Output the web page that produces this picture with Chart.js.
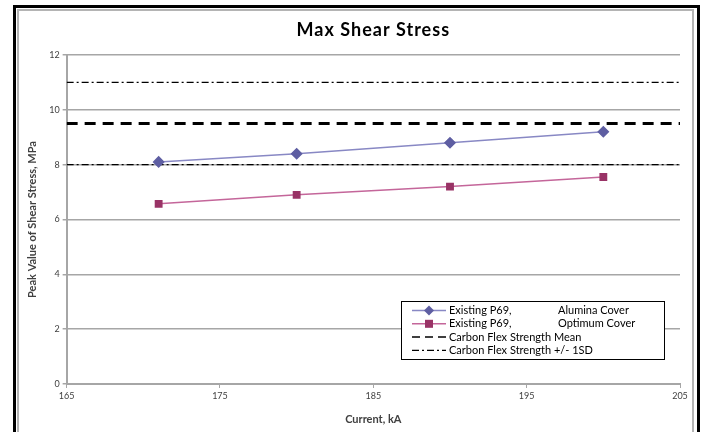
<!DOCTYPE html>
<html>
<head>
<meta charset="utf-8">
<script src="https://cdn.jsdelivr.net/npm/chart.js@4"></script>
<style>
  html, body { margin: 0; padding: 0; background: #fff; }
  #wrap { width: 705px; height: 432px; }
</style>
</head>
<body>
<div id="wrap"><canvas id="chart" width="705" height="432"></canvas></div>
<script>
// Max shear stress vs current, two covers plus carbon flex strength reference lines

const currents = [171, 180, 190, 200];
const aluminaCover = [8.1, 8.4, 8.8, 9.2];
const optimumCover = [6.57, 6.9, 7.2, 7.55];
const xRange = [165, 205];
const flexMean = 9.5;
const flexSD = [8, 11];

const COLORS = {
  blue: "#5e5ea2",
  blueLine: "#8888c4",
  plum: "#993366",
  plumLine: "#c4669a",
  grid: "#a6a6a6",
  text: "#404040"
};

const FONT = "Lato, 'Open Sans', sans-serif";
const TITLE = "Max Shear Stress";

const points = (xs, ys) => xs.map((x, i) => ({ x: x, y: ys[i] }));
const flat = (v) => xRange.map(x => ({ x: x, y: v }));

// frame round the whole chart, like the spreadsheet chart border
const framePlugin = {
  id: "frame",
  beforeDraw(chart) {
    const ctx = chart.ctx;
    ctx.save();
    ctx.fillStyle = "#fff";
    ctx.fillRect(0, 0, chart.width, chart.height);
    ctx.strokeStyle = "#000";
    ctx.lineWidth = 3;
    ctx.strokeRect(14.5, 6.5, 684, 440);
    ctx.strokeStyle = "#b4b4b4";
    ctx.lineWidth = 2;
    ctx.strokeRect(18, 10, 675, 440);
    ctx.restore();
  }
};

// title centred over the plot area rather than the whole canvas
const plotTitle = {
  id: "plotTitle",
  afterDraw(chart) {
    const ctx = chart.ctx;
    const a = chart.chartArea;
    ctx.save();
    ctx.font = "bold 18px " + FONT;
    ctx.letterSpacing = "1px";
    ctx.fillStyle = "#000";
    ctx.textAlign = "center";
    ctx.textBaseline = "middle";
    ctx.fillText(TITLE, (a.left + a.right) / 2, 30);
    ctx.restore();
  }
};

// legend drawn inside the plot, lower right
const boxLegend = {
  id: "boxLegend",
  afterDraw(chart) {
    const ctx = chart.ctx;
    const items = chart.data.datasets.filter(d => d.label);
    const x0 = 401, y0 = 301, w = 263, h = 58;
    ctx.save();
    ctx.fillStyle = "#fff";
    ctx.fillRect(x0, y0, w, h);
    ctx.strokeStyle = "#000";
    ctx.lineWidth = 1;
    ctx.strokeRect(x0 + 0.5, y0 + 0.5, w, h);
    ctx.font = "11px " + FONT;
    ctx.textBaseline = "middle";
    items.forEach((d, i) => {
      const y = y0 + 9.5 + i * 13.3;
      ctx.strokeStyle = d.borderColor;
      ctx.lineWidth = d.legendWidth || d.borderWidth;
      ctx.setLineDash(d.legendDash || d.borderDash || []);
      ctx.beginPath();
      ctx.moveTo(x0 + 11, y);
      ctx.lineTo(x0 + 45, y);
      ctx.stroke();
      ctx.setLineDash([]);
      if (d.pointStyle === "rectRot") {
        ctx.fillStyle = d.pointBackgroundColor;
        ctx.beginPath();
        ctx.moveTo(x0 + 28, y - 5); ctx.lineTo(x0 + 33, y);
        ctx.lineTo(x0 + 28, y + 5); ctx.lineTo(x0 + 23, y);
        ctx.closePath(); ctx.fill();
      } else if (d.pointStyle === "rect") {
        ctx.fillStyle = d.pointBackgroundColor;
        ctx.fillRect(x0 + 24, y - 4, 8, 8);
      }
      ctx.fillStyle = "#000";
      ctx.fillText(d.label, x0 + 48, y);
      if (d.label2) ctx.fillText(d.label2, x0 + 157, y);
    });
    ctx.restore();
  }
};

new Chart(document.getElementById("chart"), {
  type: "line",
  data: {
    datasets: [
      {
        label: "Existing P69,", label2: "Alumina Cover",
        data: points(currents, aluminaCover),
        borderColor: COLORS.blueLine, borderWidth: 1.5,
        pointStyle: "rectRot", pointRadius: 5,
        pointBackgroundColor: COLORS.blue, pointBorderColor: COLORS.blue
      },
      {
        label: "Existing P69,", label2: "Optimum Cover",
        data: points(currents, optimumCover),
        borderColor: COLORS.plumLine, borderWidth: 1.5,
        pointStyle: "rect", pointRadius: 4.5,
        pointBackgroundColor: COLORS.plum, pointBorderColor: COLORS.plum
      },
      {
        label: "Carbon Flex Strength Mean",
        data: flat(flexMean),
        borderColor: "#000", borderWidth: 3, borderDash: [11, 7],
        legendWidth: 1.5, legendDash: [8, 5],
        pointRadius: 0
      },
      {
        label: "Carbon Flex Strength +/- 1SD",
        data: flat(flexSD[0]),
        borderColor: "#000", borderWidth: 1.2, borderDash: [7, 3, 2, 3],
        pointRadius: 0
      },
      {
        data: flat(flexSD[1]),
        borderColor: "#000", borderWidth: 1.2, borderDash: [7, 3, 2, 3],
        pointRadius: 0
      }
    ]
  },
  options: {
    responsive: false,
    animation: false,
    layout: { padding: { left: 26, right: 25, top: 55, bottom: 6 } },
    plugins: {
      legend: { display: false },
      tooltip: { enabled: false },
      title: { display: false }
    },
    scales: {
      x: {
        type: "linear",
        min: xRange[0], max: xRange[1],
        ticks: { stepSize: 10, color: COLORS.text, font: { family: FONT, size: 9 }, padding: 3 },
        grid: { drawOnChartArea: false, tickLength: 4, tickColor: COLORS.grid },
        border: { color: COLORS.grid, width: 2 },
        title: {
          display: true, text: "Current, kA", color: COLORS.text,
          font: { family: FONT, size: 11, weight: "bold" }, padding: { top: 8, bottom: 0 }
        }
      },
      y: {
        min: 0, max: 12,
        ticks: { stepSize: 2, color: COLORS.text, font: { family: FONT, size: 9 }, padding: 3 },
        grid: { color: COLORS.grid, lineWidth: 1.5, tickLength: 4, tickColor: COLORS.grid },
        border: { color: COLORS.grid, width: 2 },
        title: {
          display: true, text: "Peak Value of Shear Stress, MPa", color: COLORS.text,
          font: { family: FONT, size: 11, weight: "bold" }, padding: { top: 0, bottom: 7 }
        }
      }
    }
  },
  plugins: [framePlugin, plotTitle, boxLegend]
});
</script>
</body>
</html>
